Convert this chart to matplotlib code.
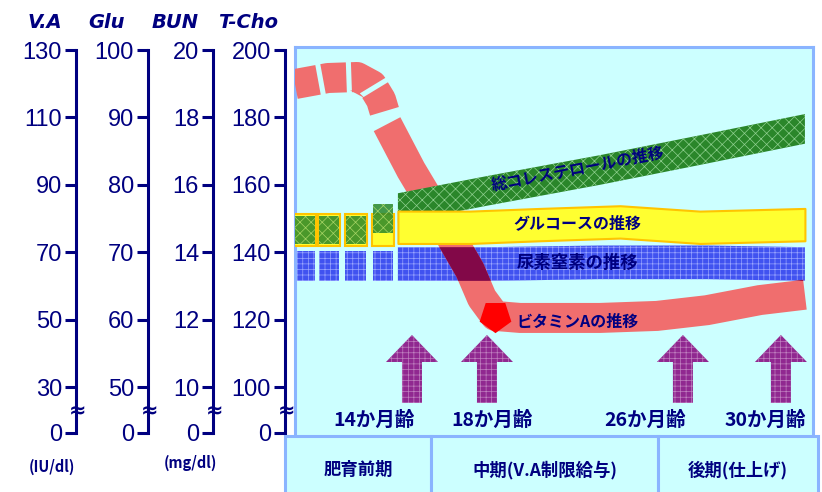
import numpy as np
import matplotlib
matplotlib.use("Agg")
import matplotlib.pyplot as plt
from matplotlib.patches import Rectangle

plt.rcParams['font.family'] = ['Noto Sans CJK JP', 'DejaVu Sans']
plt.rcParams['hatch.linewidth'] = 0.5

W, H = 822, 492

##左側の4本の目盛り##
axis_names = ["V.A", "Glu", "BUN", "T-Cho"]
va_ticks = [0, 30, 50, 70, 90, 110, 130]
glu_ticks = [0, 50, 60, 70, 80, 90, 100]
bun_ticks = [0, 10, 12, 14, 16, 18, 20]
tcho_ticks = [0, 100, 120, 140, 160, 180, 200]

##ビタミンA (IU/dl)  月齢と値##
va_early_m = [7.76, 9.52, 11.07, 11.87, 12.35, 12.56]
va_early = [119.9, 121.7, 122.0, 119.6, 115.2, 111.3]
va_m = [12.67, 13.95, 15.49, 17.09, 17.73, 18.33, 19.35, 22.61, 24.94, 26.98, 29.14, 30.98]
va = [108.0, 94.4, 80.1, 64.7, 56.4, 51.1, 50.5, 50.5, 51.1, 52.8, 55.8, 57.4]

##前期の測定（ブロック）##
early_m = [8.29, 9.57, 11.0, 12.45]
glu_early = [73.3, 73.3, 73.3, 73.3]
bun_early = [13.6, 13.6, 13.6, 13.6]
tcho_early = [146.5, 146.5, 146.5, 150.0]

##グルコース (mg/dl)##
glu_m = [13.25, 17.09, 20.16, 23.43, 26.69, 30.98]
glu = [73.7, 73.7, 74.1, 74.5, 73.7, 74.1]

##尿素窒素 (mg/dl)##
bun_m = [13.25, 18.0, 22.6, 27.0, 30.98]
bun = [13.65, 13.65, 13.7, 13.7, 13.65]

##総コレステロール (mg/dl)##
tcho_m = [13.25, 18.0, 22.61, 26.69, 30.98]
tcho = [153.1, 158.2, 164.4, 170.3, 176.6]

arrow_m = [14, 18, 26, 30]
arrow_labels = ["14か月齢", "18か月齢", "26か月齢", "30か月齢"]
phases = ["肥育前期", "中期(V.A制限給与)", "後期(仕上げ)"]
phase_bounds = [15, 25]

navy = "#000080"
cyan = "#ccffff"
frame = "#8ab4ff"
ZERO = -0.68          # 波線の下の「0」の位置
YLIM = (-0.786, 5.045)


def level(v, ticks):
    # 各項目の値を共通の目盛り位置に変換
    return np.interp(v, ticks[1:], np.arange(len(ticks) - 1))


# 月齢軸は18か月を境に間隔が変わる
def fwd(m):
    return np.interp(m, [0, 18, 40], [0, 337.5, 876.5])


def inv(p):
    return np.interp(p, [0, 337.5, 876.5], [0, 18, 40])


def px_box(x0, y0, x1, y1):
    return [x0 / W, 1 - y1 / H, (x1 - x0) / W, (y1 - y0) / H]


def band(ticks, vals, half):
    v = np.array(vals)
    return level(v - half, ticks), level(v + half, ticks)


fig = plt.figure(figsize=(W / 100, H / 100), dpi=100)

##グラフ本体##
ax = fig.add_axes(px_box(295, 47, 813, 440))
ax.set_facecolor(cyan)
ax.set_xscale('function', functions=(fwd, inv))
ax.set_xlim(7.76, 31.31)
ax.set_ylim(YLIM)
ax.set_xticks([])
ax.set_yticks([])
for s in ax.spines.values():
    s.set_color(frame)
    s.set_linewidth(2.2)

blue = "#4052f0"
yellow = "#ffff30"
green = "#2a862a"
red = "#f06e6e"
purple = "#902890"

# 尿素窒素
lo, hi = band(bun_ticks, bun, 0.5)
blue_fill = ax.fill_between(bun_m, lo, hi, facecolor=blue, edgecolor="#98a4ff",
                            hatch="+++", lw=0, zorder=2)
lo, hi = band(bun_ticks, bun_early, 0.45)
ax.bar(early_m, hi - lo, bottom=lo, width=1.1, facecolor=blue, edgecolor="#98a4ff",
       hatch="+++", lw=0, zorder=2)

# ビタミンA
lw_red = 21.6
ax.plot(va_early_m, level(va_early, va_ticks), color=red, lw=lw_red,
        dashes=(0.78, 0.17), dash_capstyle='butt', zorder=3)
ax.plot(va_m, level(va, va_ticks), color=red, lw=lw_red,
        solid_capstyle='butt', solid_joinstyle='round', zorder=3)
dark, = ax.plot(va_m, level(va, va_ticks), color="#820848", lw=lw_red,
                solid_capstyle='butt', solid_joinstyle='round', zorder=3.1)
dark.set_clip_path(blue_fill.get_paths()[0], ax.transData)
ax.plot(va_m[5], level(va[5], va_ticks), marker=(5, 0, 180), ms=24, color="#ff0000",
        mec="none", zorder=6)

# 総コレステロール
lo, hi = band(tcho_ticks, tcho, 4.4)
ax.fill_between(tcho_m, lo, hi, facecolor=green, edgecolor="#8fd08f", hatch="xxx",
                lw=0, zorder=4)

# グルコース
lo, hi = band(glu_ticks, glu, 2.4)
ax.fill_between(glu_m, lo, hi, facecolor=yellow, edgecolor="#ffc400", lw=1.5, zorder=5)
lo, hi = band(glu_ticks, glu_early, 2.4)
ax.bar(early_m, hi - lo, bottom=lo, width=1.15, facecolor=yellow,
       edgecolor="#ffc400", lw=1.5, zorder=5)
lo, hi = band(tcho_ticks, tcho_early, 4.2)
ax.bar(early_m, hi - lo, bottom=lo, width=1.05, facecolor=green, edgecolor="#b8e070",
       hatch="xxx", lw=0, alpha=0.85, zorder=5.5)

# 帯の名前
lab_m = 21.7
lab = dict(color=navy, fontweight='bold', ha='center', va='center', zorder=7)
ax.text(lab_m, level(np.interp(lab_m, tcho_m, tcho), tcho_ticks) + 0.08, "総コレステロールの推移",
        rotation=11, rotation_mode='anchor', fontsize=11.5, **lab)
ax.text(lab_m, level(np.interp(lab_m, glu_m, glu), glu_ticks), "グルコースの推移",
        fontsize=11.5, **lab)
ax.text(lab_m, level(np.interp(lab_m, bun_m, bun), bun_ticks), "尿素窒素の推移",
        fontsize=12.5, **lab)
ax.text(lab_m, level(np.interp(lab_m, va_m, va), va_ticks) - 0.06, "ビタミンAの推移",
        fontsize=11.5, **lab)

# 矢印と月齢
label_shift = [-2.0, 0.2, -1.55, -0.65]
for m, t, d in zip(arrow_m, arrow_labels, label_shift):
    ax.annotate("", xy=(m, 0.772), xytext=(m, -0.237),
                arrowprops=dict(arrowstyle="simple,head_length=27,head_width=52,tail_width=20",
                                mutation_scale=0.72, fc=purple, ec="#c080c0", hatch="+++",
                                lw=0, shrinkA=0, shrinkB=0), zorder=6)
    ax.text(m + d, -0.49, t, color=navy, fontsize=14, fontweight='bold',
            ha='center', va='center', zorder=7)

##左の目盛り軸##
for x, name, ticks, hx in zip([76, 148, 213, 285], axis_names,
                              [va_ticks, glu_ticks, bun_ticks, tcho_ticks],
                              [45, 107, 175, 248]):
    a = fig.add_axes(px_box(x, 47, x + 1, 440))
    a.set_ylim(YLIM)
    a.patch.set_visible(False)
    for s in ['top', 'right', 'bottom']:
        a.spines[s].set_visible(False)
    a.spines['left'].set_bounds(ZERO, 5)
    a.spines['left'].set_color(navy)
    a.spines['left'].set_linewidth(2.2)
    a.set_xticks([])
    a.set_yticks([ZERO] + list(range(6)))
    a.set_yticklabels([str(t) for t in ticks])
    a.tick_params(axis='y', length=8, width=2.2, color=navy, labelcolor=navy,
                  labelsize=17, pad=2)
    for t in a.get_yticklabels():
        t.set_fontfamily('Liberation Sans')
    fig.text(hx / W, 1 - 22 / H, name, color=navy, fontsize=14, fontweight='bold',
             fontstyle='italic', family='DejaVu Sans', ha='center', va='center')
    fig.text((x + 2) / W, 1 - 411 / H, "≈", color=navy, fontsize=15, fontweight='bold',
             family='DejaVu Sans', ha='center', va='center')

fig.text(52 / W, 1 - 467 / H, "(IU/dl)", color=navy, fontsize=10.5, fontweight='bold',
         ha='center', va='center')
fig.text(190 / W, 1 - 463 / H, "(mg/dl)", color=navy, fontsize=10.5, fontweight='bold',
         ha='center', va='center')

##下の肥育期間の表##
tb = fig.add_axes(px_box(285, 447, 818, 500))
tb.set_xscale('function', functions=(fwd, inv))
tb.set_xlim(7.23, 31.51)
tb.set_ylim(0, 1)
tb.axis('off')
edges = [7.23] + phase_bounds + [31.51]
for i, p in enumerate(phases):
    tb.add_patch(Rectangle((edges[i], 0), edges[i + 1] - edges[i], 1.2,
                           facecolor=cyan, edgecolor=frame, lw=2.2, clip_on=False))
    mid = inv((fwd(edges[i]) + fwd(edges[i + 1])) / 2)
    tb.text(mid, 0.57, p, color=navy, fontsize=12.5, fontweight='bold',
            ha='center', va='center')

fig.savefig("out.png", dpi=100)
